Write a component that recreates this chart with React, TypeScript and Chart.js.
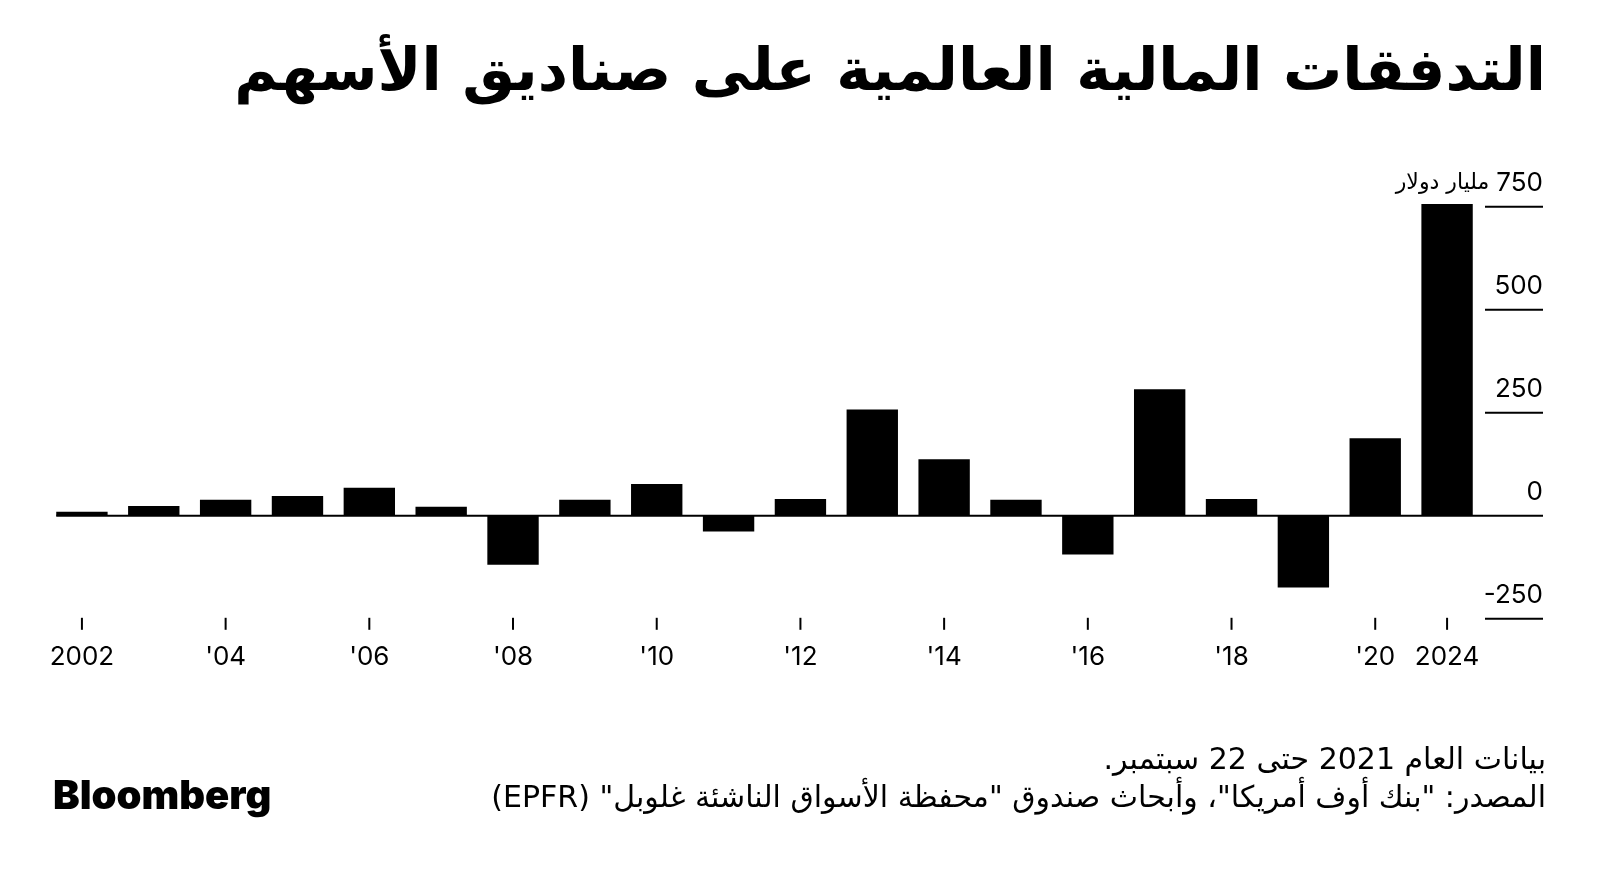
import React, { useEffect, useRef } from "react";
import { Chart, registerables } from "chart.js";

Chart.register(...registerables);

// ---- data ----
const years = [
  "2002", "2003", "2004", "2005", "2006", "2007", "2008", "2009", "2010", "2011",
  "2012", "2013", "2014", "2015", "2016", "2017", "2018", "2019", "2020", "2021",
];
const flows = [10, 24, 39, 48, 68, 22, -119, 39, 77, -38, 41, 258, 137, 39, -94, 307, 41, -174, 188, 757];
const xTickLabels = [
  "2002", "", "'04", "", "'06", "", "'08", "", "'10", "",
  "'12", "", "'14", "", "'16", "", "'18", "", "'20", "2024",
];
const yTicks = [-250, 0, 250, 500, 750];
const yTickLabels = ["-250", "0", "250", "500", "750"];
const yUnit = "مليار دولار";
const titleText = "التدفقات المالية العالمية على صناديق الأسهم";
const noteText = "بيانات العام 2021 حتى 22 سبتمبر.";
const sourceText = "المصدر: \"بنك أوف أمريكا\"، وأبحاث صندوق \"محفظة الأسواق الناشئة غلوبل\" (EPFR)";

const LATIN = "Inter, 'Liberation Sans', 'DejaVu Sans', sans-serif";
const ARABIC = "'DejaVu Sans', sans-serif";

const axisPlugin = {
  id: "bbgAxes",
  afterDraw(chart: any) {
    const ctx = chart.ctx as CanvasRenderingContext2D;
    const area = chart.chartArea;
    const x = chart.scales.x;
    const y = chart.scales.y;
    const meta = chart.getDatasetMeta(0);
    const first = meta.data[0] as any;
    const lineRight = area.right + 60;
    ctx.save();
    // zero line
    const y0 = y.getPixelForValue(0);
    ctx.strokeStyle = "#000";
    ctx.lineWidth = 2;
    ctx.beginPath();
    ctx.moveTo(first.x - first.width / 2, y0);
    ctx.lineTo(lineRight, y0);
    ctx.stroke();
    // y ticks (short lines at right with labels above)
    ctx.fillStyle = "#000";
    ctx.textAlign = "right";
    ctx.textBaseline = "middle";
    yTicks.forEach((v, i) => {
      const py = y.getPixelForValue(v);
      if (v !== 0) {
        ctx.beginPath();
        ctx.moveTo(area.right + 2, py);
        ctx.lineTo(lineRight, py);
        ctx.stroke();
      }
      ctx.font = `26px ${LATIN}`;
      const lbl = yTickLabels[i];
      ctx.fillText(lbl, lineRight, py - 24);
      if (i === yTicks.length - 1) {
        const w = ctx.measureText(lbl).width;
        ctx.font = `22px ${ARABIC}`;
        ctx.fillText(yUnit, lineRight - w - 7, py - 24);
      }
    });
    // x ticks
    ctx.textAlign = "center";
    ctx.font = `26px ${LATIN}`;
    xTickLabels.forEach((lbl, i) => {
      if (!lbl) return;
      const px = x.getPixelForValue(i);
      ctx.beginPath();
      ctx.moveTo(px, area.bottom - 1);
      ctx.lineTo(px, area.bottom + 11);
      ctx.stroke();
      ctx.fillText(lbl, px, area.bottom + 38);
    });
    ctx.restore();
  },
};

function BarChart() {
  const ref = useRef<HTMLCanvasElement | null>(null);
  useEffect(() => {
    if (!ref.current) return;
    const chart = new Chart(ref.current, {
      type: "bar",
      data: {
        labels: years,
        datasets: [
          {
            data: flows,
            backgroundColor: "#000",
            borderWidth: 0,
            barPercentage: 0.715,
            categoryPercentage: 1,
          },
        ],
      },
      options: {
        animation: false,
        responsive: false,
        devicePixelRatio: 1,
        layout: { padding: { left: 46, right: 117, top: 198.6, bottom: 257.2 } },
        plugins: { legend: { display: false }, tooltip: { enabled: false } },
        scales: {
          x: { display: false, offset: true },
          y: { display: false, min: -250, max: 770 },
        },
      },
      plugins: [axisPlugin],
    });
    return () => chart.destroy();
  }, []);
  return (
    <canvas
      ref={ref}
      width={1600}
      height={876}
      style={{ position: "absolute", left: 0, top: 0, width: 1600, height: 876 }}
    />
  );
}

export default function App() {
  useEffect(() => {
    document.body.style.margin = "0";
    document.body.style.background = "#fff";
  }, []);
  return (
    <div style={{ position: "relative", width: 1600, height: 876, background: "#fff", overflow: "hidden" }}>
      <BarChart />
      <div
        dir="rtl"
        style={{
          position: "absolute",
          right: 54,
          top: 30,
          fontFamily: ARABIC,
          fontWeight: 700,
          fontSize: 59,
          lineHeight: "80px",
          color: "#000",
          whiteSpace: "nowrap",
        }}
      >
        {titleText}
      </div>
      <div
        dir="rtl"
        style={{
          position: "absolute",
          right: 54,
          top: 740,
          fontFamily: ARABIC,
          fontSize: 30,
          lineHeight: "38px",
          color: "#000",
          whiteSpace: "nowrap",
          textAlign: "right",
        }}
      >
        <div>{noteText}</div>
        <div>{sourceText}</div>
      </div>
      <div
        style={{
          position: "absolute",
          left: 53,
          top: 770,
          fontFamily: "Inter, 'Liberation Sans', sans-serif",
          fontWeight: 900,
          fontSize: 40,
          letterSpacing: 0,
          lineHeight: "50px",
          color: "#000",
        }}
      >
        Bloomberg
      </div>
    </div>
  );
}
